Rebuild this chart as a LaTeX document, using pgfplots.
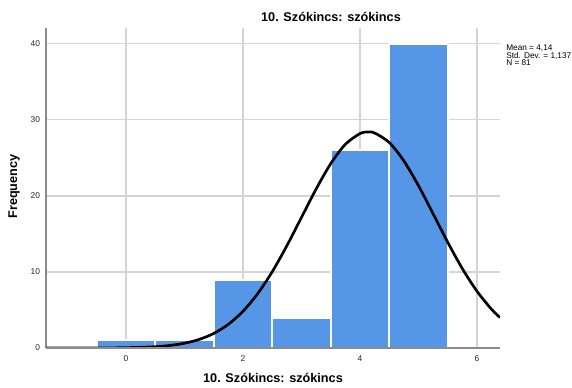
\documentclass[border=0pt]{standalone}
\usepackage{fontspec}
\setmainfont{Liberation Sans}
\usepackage{pgfplots}
\pgfplotsset{compat=1.18}
\definecolor{barblue}{HTML}{5596E6}
\definecolor{gridgray}{HTML}{D4D4D4}
\definecolor{axgray}{HTML}{8C8C8C}
\begin{document}
\begin{tikzpicture}
\useasboundingbox (-34.5pt,-30pt) rectangle (394.5pt,261pt);
\begin{axis}[
  at={(0pt,0pt)}, anchor=south west,
  scale only axis, width=340.5pt, height=240pt,
  xmin=-1.368, xmax=6.393, ymin=0, ymax=42.1,
  axis lines*=left,
  axis line style={axgray, line width=0.8pt},
  xtick={0,2,4,6}, ytick={0,10,20,30,40},
  major tick length=0pt,
  grid=major,
  major grid style={gridgray, line width=0.8pt},
  ticklabel style={font=\fontsize{6.3}{7}\selectfont, text=black!85},
  xticklabel style={yshift=-2.5pt},
  yticklabel style={xshift=-1pt},
  /pgf/number format/assume math mode=true,
  clip=true,
]
\addplot[ybar interval, fill=barblue, draw=white, line width=1.5pt] coordinates {
  (-0.5,1) (0.5,1) (1.5,9) (2.5,4) (3.5,26) (4.5,40) (5.5,40)
};
\addplot[black, line width=2pt, smooth] coordinates {
  (-1.368,0.0003) (-1,0.001) (-0.5,0.0069) (0,0.0376) (0.5,0.169) (0.75,0.334)
  (1,0.628) (1.25,1.124) (1.5,1.918) (1.75,3.12) (2,4.835) (2.25,7.14)
  (2.5,10.04) (2.75,13.46) (3,17.19) (3.25,20.92) (3.5,24.26) (3.75,26.80)
  (4,28.21) (4.14,28.42) (4.25,28.29) (4.5,27.03) (4.75,24.61) (5,21.35)
  (5.25,17.65) (5.5,13.90) (5.75,10.43) (6,7.46) (6.25,5.08) (6.393,4.01)
};
\draw[axgray, line width=0.8pt] (axis cs:-1.368,0) -- (axis cs:6.393,0);
\end{axis}
\node[font=\fontsize{9.5}{11}\selectfont\bfseries] at (213.75pt,248.25pt) {10. Szókincs: szókincs};
\node[font=\fontsize{9.5}{11}\selectfont\bfseries] at (170.25pt,-22.5pt) {10. Szókincs: szókincs};
\node[font=\fontsize{9.5}{11}\selectfont\bfseries, rotate=90] at (-24pt,121.1pt) {Frequency};
\node[font=\fontsize{6.2}{5.7}\selectfont, anchor=north west, inner sep=0pt, align=left] at (345pt,227.5pt) {Mean = 4,14\\Std. Dev. = 1,137\\N = 81};
\end{tikzpicture}
\end{document}
